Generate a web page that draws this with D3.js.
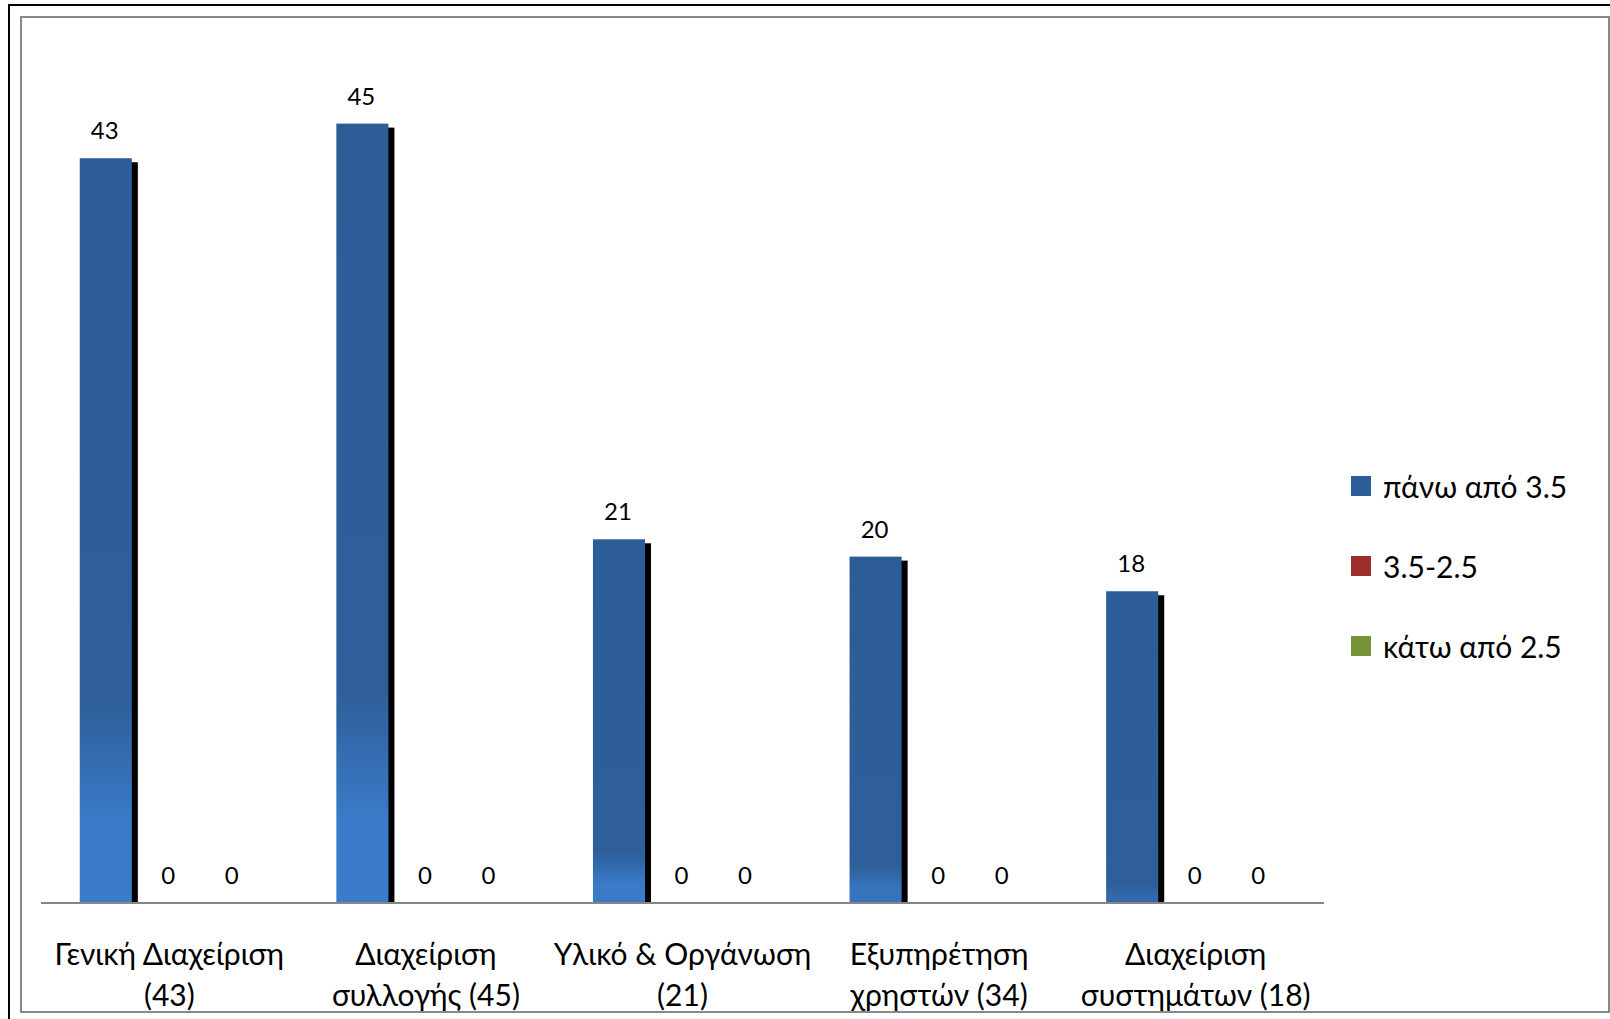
<!DOCTYPE html>
<html>
<head>
<meta charset="utf-8">
<script src="https://cdn.jsdelivr.net/npm/d3@7"></script>
<style>
  body { margin: 0; background: #fff; }
  svg { display: block; font-family: Lato, "Noto Sans", sans-serif; }
</style>
</head>
<body>
<svg id="chart" width="1610" height="1019"></svg>
<script>
//chart data
var categories = ["Γενική Διαχείριση (43)", "Διαχείριση συλλογής (45)", "Υλικό & Οργάνωση (21)", "Εξυπηρέτηση χρηστών (34)", "Διαχείριση συστημάτων (18)"];
//how each category label is broken over two lines
var categoryLines = [["Γενική Διαχείριση", "(43)"], ["Διαχείριση", "συλλογής (45)"], ["Υλικό & Οργάνωση", "(21)"], ["Εξυπηρέτηση", "χρηστών (34)"], ["Διαχείριση", "συστημάτων (18)"]];
var seriesNames = ["πάνω από 3.5", "3.5-2.5", "κάτω από 2.5"];
var above35 = [43, 45, 21, 20, 18];
var between = [0, 0, 0, 0, 0];
var below25 = [0, 0, 0, 0, 0];
var seriesValues = [above35, between, below25];

var colors = ["#2d5d97", "#9b2d2d", "#78943a"];
var lightBlue = "#3b7cca";

var svg = d3.select("#chart");

//outer black frame (runs off the right and bottom of the page)
svg.append("rect")
   .attr("x", 9).attr("y", 5)
   .attr("width", 1700).attr("height", 1100)
   .style("fill", "none").style("stroke", "#000").style("stroke-width", 2);

//clip everything to the inner grey frame
var defs = svg.append("defs");
defs.append("clipPath").attr("id", "inner")
    .append("rect").attr("x", 22).attr("y", 18).attr("width", 1586).attr("height", 993);

var g = svg.append("g").attr("clip-path", "url(#inner)");

//scales
var x0 = d3.scaleBand().domain(categories).range([41, 1324]).padding(0);
var x1 = d3.scaleBand().domain(seriesNames).range([0, x0.bandwidth()])
           .paddingInner(0.18).paddingOuter(0.61);
var y = d3.scaleLinear().domain([0, 50]).range([903, 37]);

//one row per category/series pair
var rows = [];
categories.forEach(function(c, i){
    seriesNames.forEach(function(s, j){
        rows.push({cat: c, series: s, idx: j, ci: i, value: seriesValues[j][i]});
    });
});

//gradient for each blue bar: dark, lightening near the bottom (more on tall bars)
rows.filter(function(d){ return d.idx == 0; }).forEach(function(d){
    var h = y(0) - y(d.value);
    var fl = Math.max(0.06, Math.min(0.27, (h - 280) / 600));
    var endCol = d3.interpolateRgb(colors[0], lightBlue)(Math.min(1, fl / 0.15));
    var grad = defs.append("linearGradient").attr("id", "blueGrad" + d.ci)
                   .attr("x1", 0).attr("y1", 0).attr("x2", 0).attr("y2", 1);
    grad.append("stop").attr("offset", 0).attr("stop-color", colors[0]);
    grad.append("stop").attr("offset", 1 - fl).attr("stop-color", "#2e5f9a");
    grad.append("stop").attr("offset", 1 - fl * 0.37).attr("stop-color", endCol);
    grad.append("stop").attr("offset", 1).attr("stop-color", endCol);
});

var bars = g.selectAll(".bar").data(rows).enter().append("g").attr("class", "bar");

//black shadow to the lower right of each bar
bars.filter(function(d){ return d.value > 0; })
    .append("rect")
    .attr("x", function(d){ return x0(d.cat) + x1(d.series) + 6; })
    .attr("y", function(d){ return y(d.value) + 4; })
    .attr("width", x1.bandwidth())
    .attr("height", function(d){ return y(0) - y(d.value) - 4; })
    .style("fill", "#000");

bars.append("rect")
    .attr("x", function(d){ return x0(d.cat) + x1(d.series); })
    .attr("y", function(d){ return y(d.value); })
    .attr("width", x1.bandwidth())
    .attr("height", function(d){ return y(0) - y(d.value); })
    .style("fill", function(d){ return d.idx == 0 ? "url(#blueGrad" + d.ci + ")" : colors[d.idx]; });

//value labels above bars
bars.append("text")
    .attr("x", function(d){ return x0(d.cat) + x1(d.series) + x1.bandwidth() / 2 - 1; })
    .attr("y", function(d){ return y(d.value) - 19; })
    .attr("text-anchor", "middle")
    .style("font-size", "24px")
    .style("fill", "#000")
    .text(function(d){ return d.value; });

//category axis line
g.append("line")
 .attr("x1", 41).attr("x2", 1324)
 .attr("y1", y(0)).attr("y2", y(0))
 .style("stroke", "#868686").style("stroke-width", 2);

//category labels, two lines each
var labels = g.selectAll(".cat").data(categories).enter().append("text")
              .attr("class", "cat")
              .attr("text-anchor", "middle")
              .style("font-size", "30px")
              .style("fill", "#000");
labels.selectAll("tspan")
      .data(function(d, i){ return categoryLines[i]; })
      .enter().append("tspan")
      .attr("x", function(){ return x0(d3.select(this.parentNode).datum()) + x0.bandwidth() / 2; })
      .attr("y", function(d, i){ return 965 + i * 41; })
      .text(function(d){ return d; });

//legend
var legend = g.selectAll(".legend").data(seriesNames).enter().append("g")
              .attr("class", "legend")
              .attr("transform", function(d, i){ return "translate(1351," + (476 + i * 80) + ")"; });
legend.append("rect")
      .attr("width", 20).attr("height", 20)
      .style("fill", function(d, i){ return colors[i]; });
legend.append("text")
      .attr("x", 32).attr("y", 22)
      .style("font-size", "30px")
      .style("fill", "#000")
      .text(function(d){ return d; });

//inner grey frame
svg.append("rect")
   .attr("x", 21).attr("y", 17)
   .attr("width", 1588).attr("height", 995)
   .style("fill", "none").style("stroke", "#898989").style("stroke-width", 2);
</script>
</body>
</html>
